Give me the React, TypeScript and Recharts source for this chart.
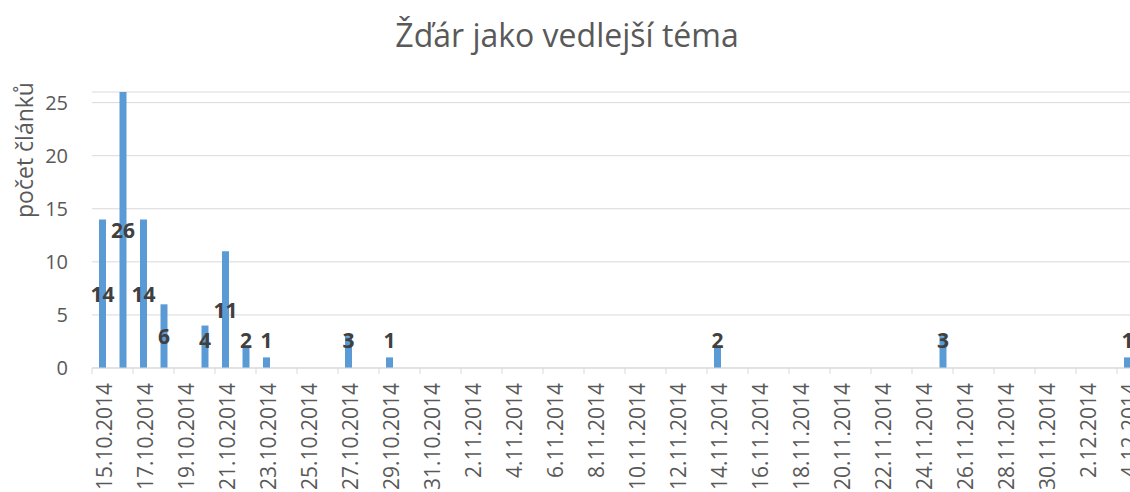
import React from "react";
import {
  BarChart,
  Bar,
  XAxis,
  YAxis,
  CartesianGrid,
  LabelList,
} from "recharts";

const dates = [
  "15.10.2014", "16.10.2014", "17.10.2014", "18.10.2014", "19.10.2014",
  "20.10.2014", "21.10.2014", "22.10.2014", "23.10.2014", "24.10.2014",
  "25.10.2014", "26.10.2014", "27.10.2014", "28.10.2014", "29.10.2014",
  "30.10.2014", "31.10.2014", "1.11.2014", "2.11.2014", "3.11.2014",
  "4.11.2014", "5.11.2014", "6.11.2014", "7.11.2014", "8.11.2014",
  "9.11.2014", "10.11.2014", "11.11.2014", "12.11.2014", "13.11.2014",
  "14.11.2014", "15.11.2014", "16.11.2014", "17.11.2014", "18.11.2014",
  "19.11.2014", "20.11.2014", "21.11.2014", "22.11.2014", "23.11.2014",
  "24.11.2014", "25.11.2014", "26.11.2014", "27.11.2014", "28.11.2014",
  "29.11.2014", "30.11.2014", "1.12.2014", "2.12.2014", "3.12.2014",
  "4.12.2014",
];

// počet článků per day
const counts = [
  14, 26, 14, 6, 0, 4, 11, 2, 1, 0, // 15.10 - 24.10
  0, 0, 3, 0, 1, 0, 0, 0, 0, 0, // 25.10 - 3.11
  0, 0, 0, 0, 0, 0, 0, 0, 0, 0, // 4.11 - 13.11
  2, 0, 0, 0, 0, 0, 0, 0, 0, 0, // 14.11 - 23.11
  0, 3, 0, 0, 0, 0, 0, 0, 0, 0, // 24.11 - 3.12
  1, // 4.12
];

const yTicks = [0, 5, 10, 15, 20, 25];

const data = dates.map((d, i) => ({ date: d, count: counts[i] }));

const FONT = "'Open Sans', 'Noto Sans', sans-serif";
const GREY = "#595959";

const DateTick = (props: any) => {
  const { x, y, payload } = props;
  const half = payload && payload.offset ? payload.offset : 10.25;
  return (
    <g>
      <line x1={x - half} x2={x - half} y1={y - 8} y2={y - 2} stroke="#d9d9d9" strokeWidth={1} />
      <text
        x={0}
        y={0}
        transform={`translate(${x + 2},${y + 7}) rotate(-90)`}
        textAnchor="end"
        dy="0.36em"
        fill={GREY}
        fontSize={21}
        fontFamily={FONT}
      >
        {payload.value}
      </text>
    </g>
  );
};

const ValueLabel = (props: any) => {
  const { x, y, width, height, value } = props;
  if (!value) return null;
  const cx = x + width / 2;
  const cy = Math.min(y + height / 2, 340);
  return (
    <text
      x={cx}
      y={cy}
      textAnchor="middle"
      dominantBaseline="central"
      fill="#404040"
      fontSize={21}
      fontWeight="bold"
      fontFamily={FONT}
    >
      {value}
    </text>
  );
};

const App: React.FC = () => {
  return (
    <div
      style={{
        position: "absolute",
        left: 0,
        top: 0,
        width: 1130,
        height: 492,
        overflow: "hidden",
        background: "#fff",
      }}
    >
      <BarChart
        width={1140}
        height={492}
        data={data}
        margin={{ top: 92, right: 2.5, bottom: 0, left: 32 }}
      >
        <CartesianGrid vertical={false} stroke="#d9d9d9" />
        <XAxis
          dataKey="date"
          interval={1}
          height={124}
          tickLine={false}
          tickSize={6}
          tickMargin={2}
          axisLine={{ stroke: "#d9d9d9" }}
          tick={<DateTick />}
        />
        <YAxis
          width={60}
          domain={[0, 26]}
          ticks={yTicks}
          allowDataOverflow
          axisLine={false}
          tickLine={false}
          tickSize={6}
          tickMargin={18}
          tick={{ fill: GREY, fontSize: 20, fontFamily: FONT }}
        />
        <Bar dataKey="count" fill="#5b9bd5" barSize={7} isAnimationActive={false}>
          <LabelList dataKey="count" content={<ValueLabel />} />
        </Bar>
      </BarChart>
      <svg
        width={1130}
        height={492}
        style={{ position: "absolute", left: 0, top: 0, pointerEvents: "none" }}
      >
        <text
          x={567}
          y={47}
          textAnchor="middle"
          fill={GREY}
          fontSize={32}
          fontFamily={FONT}
        >
          Žďár jako vedlejší téma
        </text>
        <text
          transform="translate(33,150) rotate(-90)"
          textAnchor="middle"
          fill={GREY}
          fontSize={23}
          fontFamily={FONT}
        >
          počet článků
        </text>
      </svg>
    </div>
  );
};

export default App;
